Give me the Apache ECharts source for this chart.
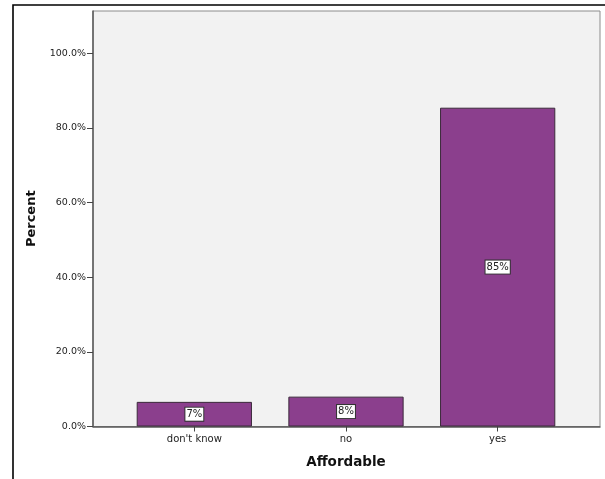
<!DOCTYPE html>
<html>
<head>
<meta charset="utf-8">
<script src="https://cdn.jsdelivr.net/npm/echarts@6/dist/echarts.min.js"></script>
<style>
html,body{margin:0;padding:0;background:#fff;}
#chart{width:605px;height:479px;}
</style>
</head>
<body>
<div id="chart"></div>
<script>
const categories = ["don't know", "no", "yes"];
const percentValues = [6.6, 8.0, 85.4];
const yTicks = [0, 20, 40, 60, 80, 100];
const yMax = 111.3;
const xTitle = "Affordable";
const yTitle = "Percent";

const chart = echarts.init(document.getElementById('chart'), null, {renderer: 'canvas'});
const font = 'DejaVu Sans';

const option = {
  animation: false,
  backgroundColor: '#ffffff',
  graphic: [{
    type: 'polyline',
    shape: {points: [[13, 700], [13, 5], [900, 5]]},
    style: {stroke: '#000', lineWidth: 1.6, fill: null},
    silent: true
  }],
  grid: [
    {left: 93, right: 5, top: 11, bottom: 52.5, show: true, backgroundColor: '#f2f2f2', borderColor: '#8c8c8c', borderWidth: 1},
    {left: 118.5, right: 31.5, top: 11, bottom: 52.5}
  ],
  xAxis: [
    {gridIndex: 0, type: 'value', min: 0, max: 1,
     axisLine: {show: true, lineStyle: {color: '#5a5a5a', width: 1.5}},
     axisTick: {show: false}, axisLabel: {show: false}, splitLine: {show: false}},
    {gridIndex: 1, type: 'category', data: categories, boundaryGap: true,
     name: xTitle, nameLocation: 'middle', nameGap: 29,
     nameTextStyle: {fontFamily: font, fontSize: 13.5, fontWeight: 'bold', color: '#111'},
     axisLine: {show: false},
     axisTick: {show: true, alignWithLabel: true, length: 5, lineStyle: {color: '#444', width: 1}},
     axisLabel: {fontFamily: font, fontSize: 10, color: '#222', margin: 8},
     splitLine: {show: false}}
  ],
  yAxis: [
    {gridIndex: 0, type: 'value', min: 0, max: yMax,
     name: yTitle, nameLocation: 'middle', nameGap: 55, nameRotate: 90,
     nameTextStyle: {fontFamily: font, fontSize: 13, fontWeight: 'bold', color: '#111'},
     axisLine: {show: true, lineStyle: {color: '#5a5a5a', width: 1.5}},
     axisTick: {show: true, length: 6, customValues: yTicks, lineStyle: {color: '#444', width: 1}},
     axisLabel: {fontFamily: font, fontSize: 9.5, color: '#222', margin: 7, customValues: yTicks,
                 formatter: v => v.toFixed(1) + '%'},
     splitLine: {show: false}},
    {gridIndex: 1, type: 'value', min: 0, max: yMax, show: false}
  ],
  series: [{
    type: 'bar',
    xAxisIndex: 1, yAxisIndex: 1,
    data: percentValues,
    barWidth: '76%',
    itemStyle: {color: '#8b3f8d', borderColor: '#3b2a3b', borderWidth: 1},
    label: {
      show: true, position: 'inside',
      formatter: p => Math.round(p.value) + '%',
      fontFamily: font, fontSize: 10, color: '#222',
      backgroundColor: '#ffffff', borderColor: '#333', borderWidth: 1,
      padding: [2, 1, 1, 1]
    }
  }]
};
chart.setOption(option);
</script>
</body>
</html>
